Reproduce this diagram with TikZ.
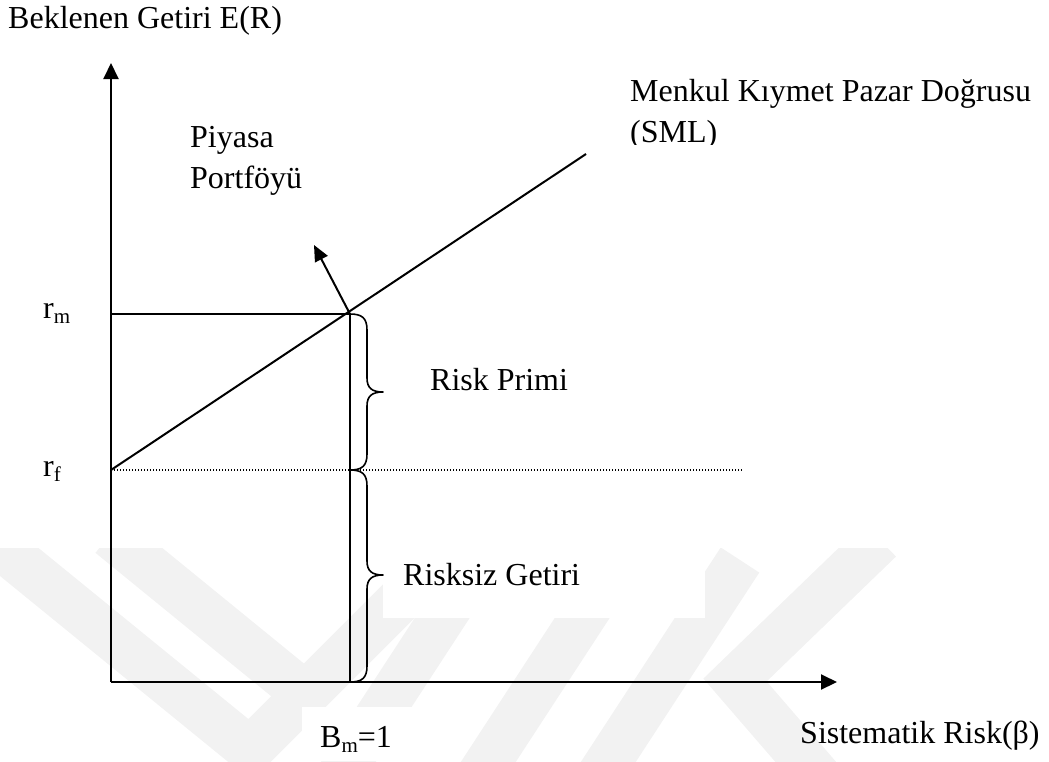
\documentclass[tikz,border=0pt]{standalone}
\usepackage{fontspec}
\setmainfont{Liberation Serif}
\usetikzlibrary{arrows.meta}

\definecolor{wmgray}{RGB}{242,242,242}

\tikzset{
  lbl/.style={anchor=base west, inner sep=0pt, font=\fontsize{32}{38}\selectfont},
  axisline/.style={line width=2pt, -{Triangle[length=16pt,width=15pt]}},
  plain/.style={line width=2pt},
  bracestroke/.style={line width=1.6pt, line join=round},
  wm/.style={draw=wmgray, line width=46pt, line join=miter},
  blank/.style={fill=white, draw=none}
}
\newcommand{\subm}[1]{\raisebox{-5pt}{\fontsize{21}{21}\selectfont #1}}

\begin{document}
\begin{tikzpicture}[x=1pt,y=-1pt]
\useasboundingbox (0,0) rectangle (1049,761);

% faint background mark in the lower part of the page
\begin{scope}
  \clip (0,548) rectangle (1049,761);
  \draw[wm] (-20,530) -- (250,750) -- (480,520);
  \draw[wm] (110,535) -- (300,690);
  \draw[wm] (330,790) -- (480,560);
  \draw[wm] (470,790) -- (620,560);
  \draw[wm] (590,790) -- (740,560);
  \draw[wm] (880,540) -- (735,680) -- (830,790);
\end{scope}

% white text boxes
\fill[blank] (383,540) rectangle (705,618);
\fill[blank] (302,707) rectangle (440,761);

% key points
\coordinate (O)   at (111,682);
\coordinate (Ytip) at (111,63);
\coordinate (Xtip) at (837,682);
\coordinate (Rm)  at (111,314);
\coordinate (Rf)  at (111,470);
\coordinate (M)   at (350,314);
\coordinate (Bm)  at (350,682);
\coordinate (Mf)  at (350,470);
\coordinate (Rfend) at (742,470);
\coordinate (SMLend) at (586,154);
\coordinate (Ptip) at (314,245);

% axes
\draw[axisline] (O) -- (Ytip);
\draw[axisline] (O) -- (Xtip);

% market return level and beta = 1
\draw[plain] (Rm) -- (M);
\draw[plain] (M) -- (Bm);

% risk-free level
\draw[line width=1.1pt, dash pattern=on 1pt off 2pt] (Rf) -- (Rfend);

% security market line
\draw[plain] (Rf) -- (SMLend);

% pointer to the market portfolio
\draw[line width=2pt, -{Triangle[length=16pt,width=14pt]}] (M) -- (Ptip);

% braces
\draw[bracestroke] (M) .. controls (362,314) and (367,318) .. (367,330)
  -- (367,378) .. controls (367,388) and (372,392) .. (383,392)
  .. controls (372,392) and (367,396) .. (367,406)
  -- (367,454) .. controls (367,466) and (362,470) .. (Mf);
\draw[bracestroke] (Mf) .. controls (362,470) and (367,474) .. (367,486)
  -- (367,561) .. controls (367,571) and (372,575) .. (383,575)
  .. controls (372,575) and (367,579) .. (367,589)
  -- (367,666) .. controls (367,678) and (362,682) .. (Bm);

% labels
\node[lbl] (ylab) at (8,28) {Beklenen Getiri E(R)};
\node[lbl] (pp1) at (190,147) {Piyasa};
\node[lbl] (pp2) at (190,188) {Portföyü};
\node[lbl] (sml1) at (630,101) {Menkul Kıymet Pazar Doğrusu};
\begin{scope}
  \clip (600,110) rectangle (800,144);
  \node[lbl] (sml2) at (630,142) {(SML)};
\end{scope}
\node[lbl] (rm) at (43,318) {r\subm{m}};
\node[lbl] (rf) at (43,476) {r\subm{f}};
\node[lbl] (rp) at (430,390) {Risk Primi};
\node[lbl] (rg) at (403,585) {Risksiz Getiri};
\node[lbl] (bm) at (320,747) {B\subm{m}=1};
\node[lbl] (xlab) at (800,743) {Sistematik Risk(β)};
\end{tikzpicture}
\end{document}
